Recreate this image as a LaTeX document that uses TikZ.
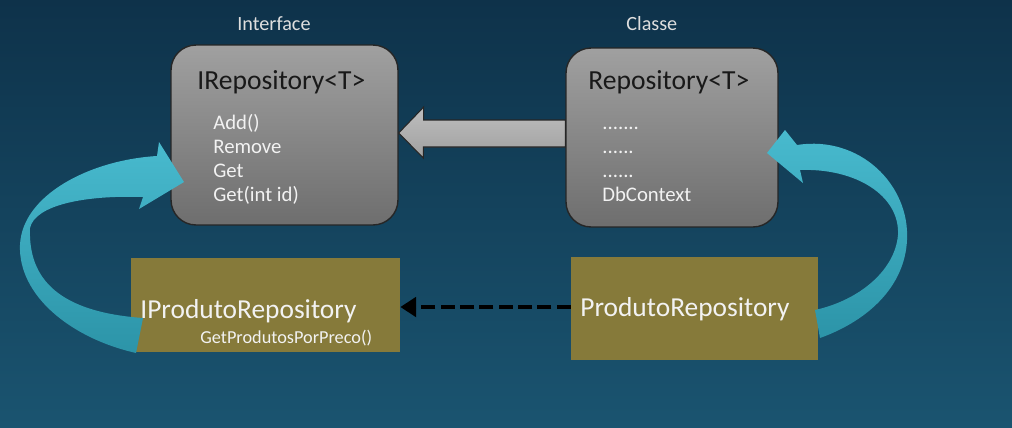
\documentclass[tikz,border=0pt]{standalone}
\usepackage{fontspec}
\setmainfont{Carlito}
\usepackage{xcolor}
\usepackage{tikz}
\usetikzlibrary{
    positioning,
    arrows.meta
}

\definecolor{bgtop}{RGB}{14,50,74}
\definecolor{bgmid}{RGB}{20,70,98}
\definecolor{bgbottom}{RGB}{26,84,112}
\definecolor{graytop}{RGB}{160,160,160}
\definecolor{graybottom}{RGB}{110,110,110}
\definecolor{edgegray}{RGB}{38,38,38}
\definecolor{arrowgraytop}{RGB}{190,190,190}
\definecolor{arrowgraybottom}{RGB}{160,160,160}
\definecolor{boxolive}{RGB}{134,122,58}
\definecolor{ribbonlight}{RGB}{72,186,206}
\definecolor{ribbondark}{RGB}{44,148,168}
\definecolor{captiongray}{RGB}{222,222,222}

\begin{document}
\begin{tikzpicture}[
    x=0.02cm,
    y=-0.02cm,
    caption/.style={
        font=\fontsize{11.5}{14}\selectfont,
        text=captiongray,
        inner sep=0,
        anchor=base west
    },
    classbox/.style={
        rectangle,
        rounded corners=0.5cm,
        draw=edgegray,
        line width=0.8pt,
        top color=graytop,
        bottom color=graybottom
    },
    concretebox/.style={
        rectangle,
        fill=boxolive,
        inner sep=0
    },
    boxtitle/.style={
        font=\fontsize{15.7}{18}\selectfont,
        text=black!90,
        inner sep=0,
        anchor=base west
    },
    members/.style={
        font=\fontsize{11.8}{13.66}\selectfont,
        text=white!95!black,
        align=left,
        inner sep=0,
        anchor=north west
    },
    olivetitle/.style={
        font=\fontsize{15.6}{18}\selectfont,
        text=white!95!black,
        inner sep=0,
        anchor=base west
    },
    blockarrow/.style={
        draw=edgegray,
        line width=0.6pt,
        top color=arrowgraytop,
        bottom color=arrowgraybottom
    },
    dasharrow/.style={
        draw=black,
        line width=2.6pt,
        dash pattern=on 8pt off 3pt,
        -{Triangle[length=9pt,width=11pt]}
    },
    ribbon/.style={
        top color=ribbonlight,
        bottom color=ribbondark
    }
]

% ============================================================
% BACKGROUND
% ============================================================

\shade[top color=bgtop, middle color=bgmid, bottom color=bgbottom]
    (0,0) rectangle (1012,427);
\useasboundingbox (0,0) rectangle (1012,427);

% ============================================================
% INTERFACE / CLASSE
% ============================================================

\node[caption] (interface) at (237,30) {Interface};
\node[caption] (classe) at (626,30) {Classe};

\node[classbox, minimum width=4.54cm, minimum height=3.6cm]
    (irepo) at (284.5,135) {};
\node[boxtitle] (irepotitle) at (197,89) {IRepository<T>};
\node[members] (irepomembers) at (213,112)
{
\strut Add()\\
Remove\\
Get\\
Get(int id)
};

\node[classbox, minimum width=4.24cm, minimum height=3.58cm]
    (repo) at (672,137.5) {};
\node[boxtitle] (repotitle) at (588,89) {Repository<T>};
\node[members] (repomembers) at (602,112)
{
\strut .......\\
......\\
......\\
DbContext
};

% ============================================================
% PRODUTO
% ============================================================

\node[concretebox, minimum width=5.38cm, minimum height=1.88cm]
    (iprod) at (265.5,305) {};
\node[olivetitle] (iprodtitle) at (140,318) {IProdutoRepository};
\node[caption, font=\fontsize{10.4}{12}\selectfont, text=white!95!black]
    (iprodmethod) at (200,343) {GetProdutosPorPreco()};

\node[concretebox, minimum width=4.94cm, minimum height=2.06cm]
    (prod) at (694.5,308.5) {};
\node[olivetitle] (prodtitle) at (580,316) {ProdutoRepository};

% ============================================================
% CONNECTIONS
% ============================================================

% Repository<T> implements IRepository<T>
\draw[blockarrow] (irepo.east |- 0,133) -- ++(25,-26) -- ++(0,13)
    -- (repo.west |- 0,120) -- (repo.west |- 0,147) -- ++(-142,0)
    -- ++(0,11) -- cycle;

% ProdutoRepository implements IProdutoRepository
\draw[dasharrow] (prod.west |- 0,307) -- (iprod.east |- 0,307);

% IProdutoRepository extends IRepository<T>
\shade[ribbon] (136,353) .. controls (70,338) and (18,295) .. (20,245)
    .. controls (22,195) and (90,160) .. (157,156)
    -- (159,142) -- (184,182) -- (139,209) -- (143,197)
    .. controls (85,195) and (35,205) .. (30,228)
    .. controls (28,280) and (60,312) .. (143,318) -- cycle;

% ProdutoRepository extends Repository<T>
\shade[ribbon] (767,153) -- (785,130) -- (797,145)
    .. controls (860,135) and (910,185) .. (907,240)
    .. controls (905,285) and (870,320) .. (820,338)
    -- (815,310)
    .. controls (860,300) and (895,270) .. (898,235)
    .. controls (900,195) and (855,168) .. (800,170)
    -- (803,183) -- cycle;

\end{tikzpicture}
\end{document}
